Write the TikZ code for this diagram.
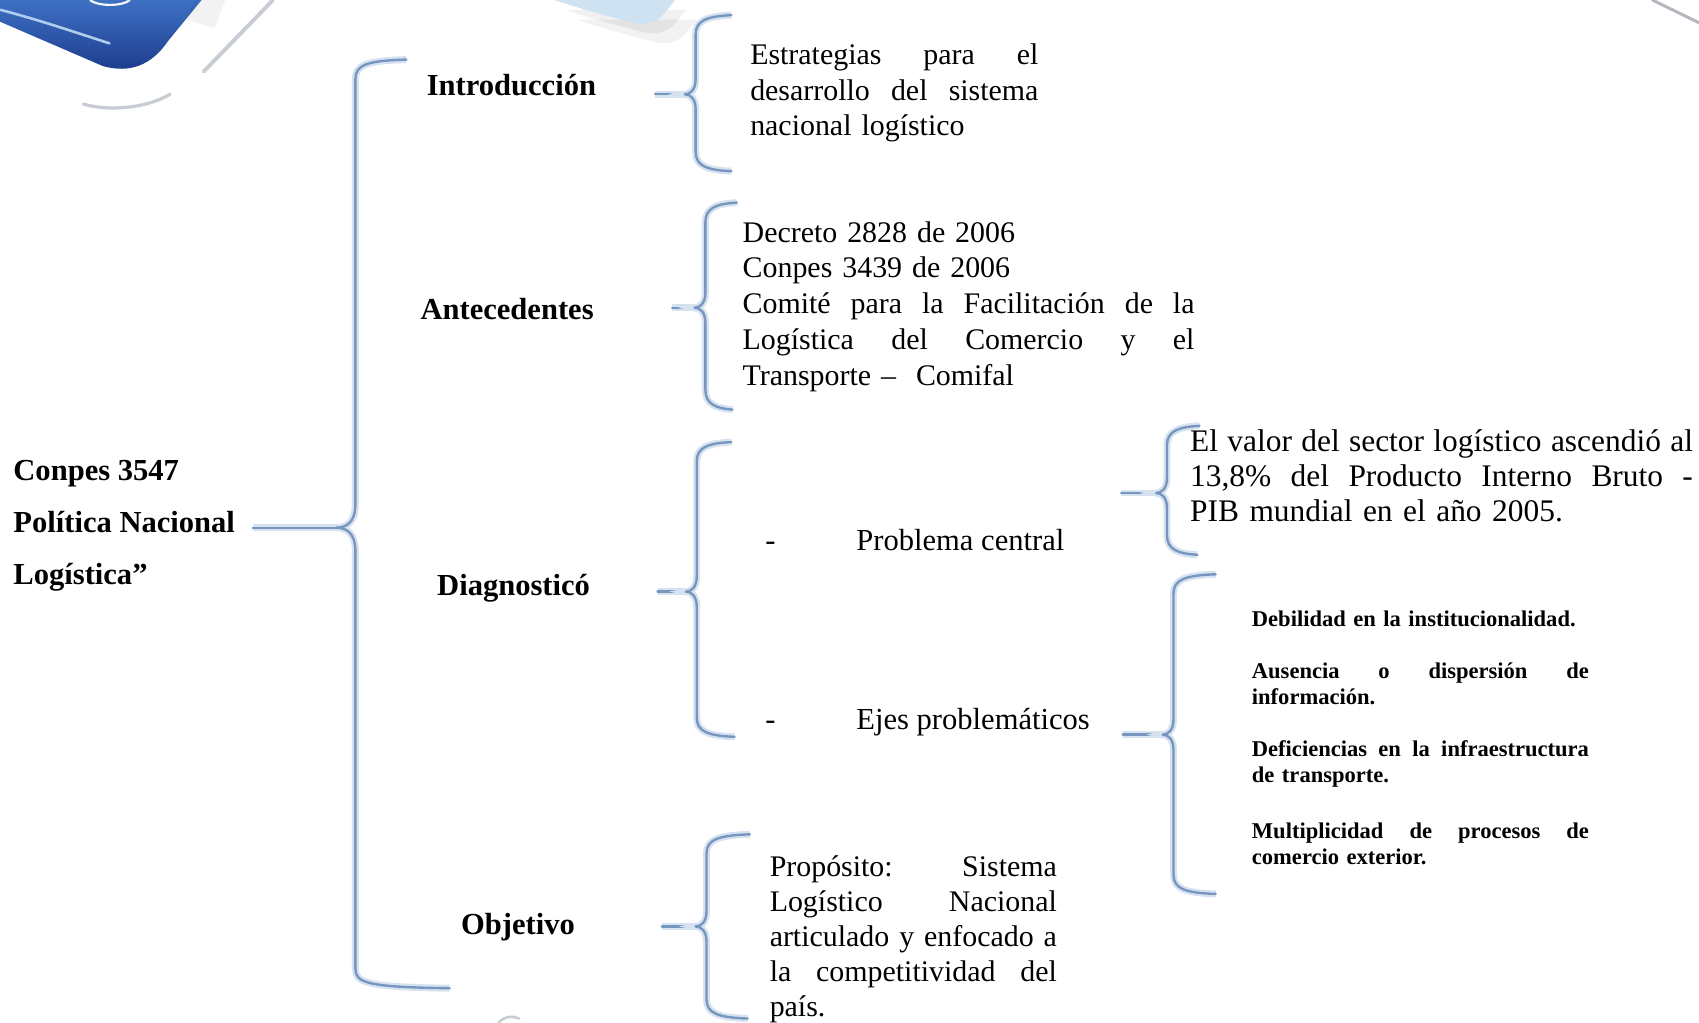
\documentclass[tikz,border=0pt]{standalone}
\usepackage{fontspec}
\setmainfont{Liberation Serif}
\usetikzlibrary{calc}

\definecolor{bracecol}{RGB}{118,150,192}
\definecolor{bracehalo}{RGB}{214,226,240}
\definecolor{navyA}{RGB}{62,112,196}
\definecolor{navyB}{RGB}{28,58,138}
\definecolor{stripe}{RGB}{175,205,238}
\definecolor{paleblue}{RGB}{206,226,242}
\definecolor{greyline}{RGB}{200,204,211}

% a justified line: the word gaps share out the whole width
\newcommand{\jline}[2]{\leavevmode\hbox to #1{\frenchspacing\spaceskip=0pt plus 1fil\relax #2}}

% curly brace: #1 x of the spine, #2 top y, #3 bottom y, #4 tip y,
% #5 end of upper arm, #6 end of lower arm, #7 depth of the tip
\newcommand{\curlyb}[7]{%
  \draw[bracestroke] (#5,#2) .. controls ({#1+10},{#2+1}) and (#1,{#2+5}) .. (#1,{#2+18})
    -- (#1,{#4-#7-4}) .. controls (#1,{#4-4}) and ({#1-#7/2},#4) .. ({#1-#7},#4)
    .. controls ({#1-#7/2},#4) and (#1,{#4+4}) .. (#1,{#4+#7+4})
    -- (#1,{#3-18}) .. controls (#1,{#3-5}) and ({#1+10},{#3-1}) .. (#6,#3);}

\begin{document}
\begin{tikzpicture}[x=0.5pt,y=-0.5pt,
  bracestroke/.style={draw=bracecol, line width=1.1pt, line cap=round, line join=round,
    preaction={draw=bracehalo, line width=3.2pt}},
  headtxt/.style={font=\bfseries\fontsize{14.1}{16.5}\selectfont, inner sep=0pt, anchor=base},
  bodytxt/.style={font=\fontsize{13.8}{16.5}\selectfont, inner sep=0pt, anchor=north west, align=left},
  smalltxt/.style={font=\bfseries\fontsize{10.4}{12}\selectfont, inner sep=0pt, anchor=north west, align=left},
  itemtxt/.style={font=\fontsize{14.1}{16.5}\selectfont, inner sep=0pt, anchor=base west}
]
\useasboundingbox (0,0) rectangle (1568,944);
\fill[white] (0,0) rectangle (1568,944);

% ---- header ornaments ----
% dark blue tile in the corner
\shade[top color=navyA, bottom color=navyB]
  (0,0) -- (186,0) -- (155,38) .. controls (140,60) and (120,68) .. (95,61) -- (0,20) -- cycle;
\draw[stripe, line width=1.2pt, line cap=round] (0,9) .. controls (35,18) and (70,30) .. (101,40);
\draw[white!85!stripe, line width=1pt] (83,0) .. controls (90,6) and (113,6) .. (120,0);
\fill[black, opacity=0.05] (180,0) -- (208,0) -- (198,26) -- (172,18) -- cycle;
% thin grey strokes
\draw[greyline, line width=1.8pt, line cap=round] (252,0) -- (188,66);
\draw[greyline!90!black, line width=1.4pt, line cap=round] (1525,0) -- (1568,21);
\draw[greyline, line width=1.5pt, line cap=round] (77,96) .. controls (100,103) and (135,100) .. (157,87);
\draw[greyline, line width=1.2pt, line cap=round] (460,944) .. controls (465,938) and (473,937) .. (479,940);
% pale blue tile with its soft shadow
\fill[black, opacity=0.05, shift={(20,18)}]
  (512,0) .. controls (535,8) and (565,16) .. (585,21) .. controls (600,24) and (609,18) .. (615,10) -- (623,0) -- cycle;
\fill[black, opacity=0.06, shift={(10,9)}]
  (512,0) .. controls (535,8) and (565,16) .. (585,21) .. controls (600,24) and (609,18) .. (615,10) -- (623,0) -- cycle;
\fill[paleblue]
  (512,0) .. controls (535,8) and (565,16) .. (585,21) .. controls (600,24) and (609,18) .. (615,10) -- (623,0) -- cycle;

% ---- texts ----
\node[font=\bfseries\fontsize{14.1}{24}\selectfont, inner sep=0pt, anchor=north west, align=left]
  (conpes) at (12,409) {\strut Conpes 3547\\\strut Política Nacional\\\strut Logística”};

\node[headtxt] (intro) at (472,88) {Introducción};
\node[headtxt] (ante)  at (468,295) {Antecedentes};
\node[headtxt] (diag)  at (474,550) {Diagnosticó};
\node[headtxt] (obj)   at (478,862) {Objetivo};

\node[bodytxt, text width=133pt] (introtxt) at (692,36)
  {\strut\jline{133pt}{Estrategias para el}\\
   \jline{133pt}{desarrollo del sistema}\\
   nacional logístico};

\node[bodytxt, text width=208.5pt] (antetxt) at (685,200)
  {\strut Decreto 2828 de 2006\\
   Conpes 3439 de 2006\\
   \jline{208.5pt}{Comité para la Facilitación de la}\\
   \jline{208.5pt}{Logística del Comercio y el}\\
   Transporte –~ Comifal};

\node[itemtxt] (prob) at (706,508) {\makebox[42pt][l]{-}Problema central};
\node[itemtxt] (ejes) at (706,673) {\makebox[42pt][l]{-}Ejes problemáticos};

\node[bodytxt, font=\fontsize{14.5}{16.3}\selectfont, text width=232pt] (probtxt) at (1098,393)
  {\strut\jline{232pt}{El valor del sector logístico ascendió al}\\
   \jline{232pt}{13,8\% del Producto Interno Bruto -}\\
   PIB mundial en el año 2005.};

\node[smalltxt, text width=155.5pt] (ejestxt) at (1155,561)
  {\strut Debilidad en la institucionalidad.\\[12pt]
   \jline{155.5pt}{Ausencia o dispersión de}\\
   información.\\[12pt]
   \jline{155.5pt}{Deficiencias en la infraestructura}\\
   de transporte.\\[14pt]
   \jline{155.5pt}{Multiplicidad de procesos de}\\
   comercio exterior.};

\node[bodytxt, font=\fontsize{13.8}{16.15}\selectfont, text width=132.5pt] (objtxt) at (710,786)
  {\strut\jline{132.5pt}{Propósito: Sistema}\\
   \jline{132.5pt}{Logístico Nacional}\\
   \jline{132.5pt}{articulado y enfocado a}\\
   \jline{132.5pt}{la competitividad del}\\
   país.};

% ---- tips of the braces ----
\coordinate (t0) at (310,487);
\coordinate (t1) at (632,87);
\coordinate (t2) at (641,284);
\coordinate (t3) at (633,546);
\coordinate (t4) at (642,855);
\coordinate (t5) at (1067,455);
\coordinate (t6) at (1073,678);

% ---- connectors ----
\draw[bracestroke, shorten <=8pt]  (conpes.east |- t0) -- (t0);
\draw[bracestroke, shorten <=27pt] (intro.east |- t1) -- (t1);
\draw[bracestroke, shorten <=36pt] (ante.east |- t2) -- (t2);
\draw[bracestroke, shorten <=31pt] (diag.east |- t3) -- (t3);
\draw[bracestroke, shorten <=40pt] (obj.east |- t4) -- (t4);
\draw[bracestroke, shorten <=26pt] (prob.east |- t5) -- (t5);
\draw[bracestroke, shorten <=15pt] (ejes.east |- t6) -- (t6);

% ---- braces ----
\curlyb{328}{55}{912}{487}{375}{415}{18}
\curlyb{642}{14}{158}{87}{675}{675}{10}
\curlyb{651}{187}{378}{284}{680}{676}{10}
\curlyb{643}{408}{680}{546}{675}{678}{10}
\curlyb{652}{770}{940}{855}{692}{690}{10}
\curlyb{1077}{393}{512}{455}{1107}{1105}{10}
\curlyb{1083}{530}{825}{678}{1122}{1122}{10}
\end{tikzpicture}
\end{document}
